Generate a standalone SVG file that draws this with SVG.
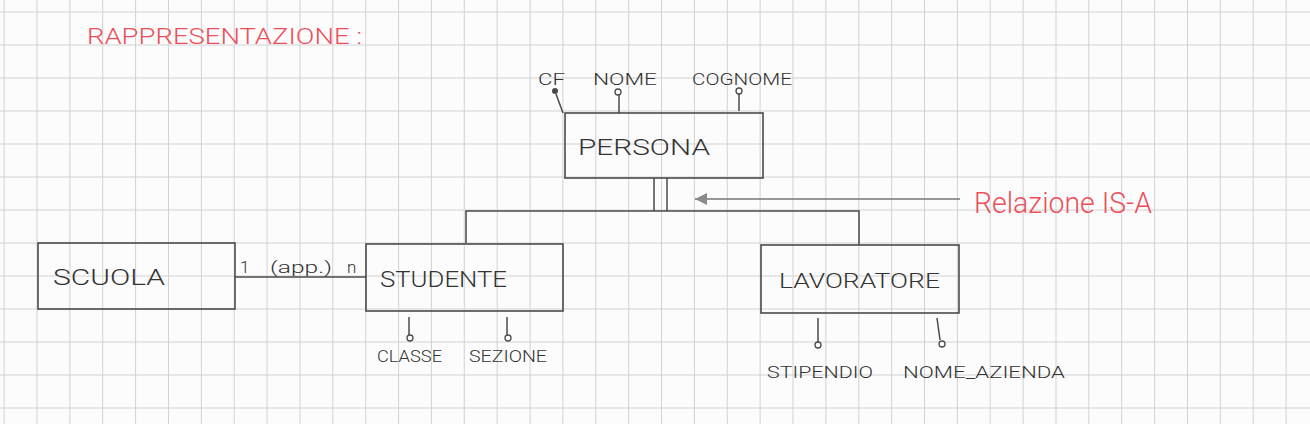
<svg xmlns="http://www.w3.org/2000/svg" width="1310" height="424" viewBox="0 0 1310 424">
<style>
.grid{stroke:#d2d2d2;stroke-width:1;fill:none}
.box{fill:none;stroke:#4a4a4a;stroke-width:1.6}
.ln{fill:none;stroke:#4a4a4a;stroke-width:1.5}
.lbl{font-family:Roboto,"Liberation Sans",Arial,sans-serif;font-weight:300;fill:#333}
.ent{font-size:22px}
.att{font-size:16px}
.red{font-family:Roboto,"Liberation Sans",Arial,sans-serif;font-weight:300;fill:#ec4f5a}
.lol{fill:#fff;stroke:#4a4a4a;stroke-width:1.3}
</style>
<defs>
<marker id="tri" markerUnits="userSpaceOnUse" markerWidth="13" markerHeight="13" refX="12" refY="6.5" orient="auto">
<path d="M0,0.5 L12,6.5 L0,12.5 z" fill="#8a8a8a"/>
</marker>
</defs>
<rect width="1310" height="424" fill="#fcfcfc"/>
<path class="grid" d="M4.1 0V424M37 0V424M69.9 0V424M102.7 0V424M135.6 0V424M168.5 0V424M201.4 0V424M234.2 0V424M267.1 0V424M300 0V424M332.8 0V424M365.7 0V424M398.6 0V424M431.4 0V424M464.3 0V424M497.2 0V424M530.1 0V424M562.9 0V424M595.8 0V424M628.7 0V424M661.5 0V424M694.4 0V424M727.3 0V424M760.1 0V424M793 0V424M825.9 0V424M858.8 0V424M891.6 0V424M924.5 0V424M957.4 0V424M990.2 0V424M1023.1 0V424M1056 0V424M1088.8 0V424M1121.7 0V424M1154.6 0V424M1187.5 0V424M1220.3 0V424M1253.2 0V424M1286.1 0V424M0 12H1310M0 45H1310M0 78H1310M0 111H1310M0 144H1310M0 177H1310M0 210H1310M0 243H1310M0 276H1310M0 309H1310M0 342H1310M0 375H1310M0 408H1310"/>

<text class="red" x="87" y="44" font-size="22" textLength="275" lengthAdjust="spacingAndGlyphs">RAPPRESENTAZIONE :</text>

<g id="connectors">
<line class="ln" x1="235" y1="277" x2="366" y2="277"/>
<text class="lbl" x="240" y="273" font-size="17">1</text>
<text class="lbl" x="270" y="273" font-size="17" textLength="62" lengthAdjust="spacingAndGlyphs">(app.)</text>
<text class="lbl" x="347" y="273" font-size="17">n</text>
<line class="ln" x1="654" y1="178" x2="654" y2="211"/>
<line class="ln" x1="667" y1="178" x2="667" y2="211"/>
<polyline class="ln" points="466,243 466,211 859,211 859,245"/>
<line x1="960" y1="199" x2="695" y2="199" stroke="#777" stroke-width="1.3" marker-end="url(#tri)"/>
<text class="red" x="974" y="213" font-size="29" textLength="178" lengthAdjust="spacingAndGlyphs">Relazione IS-A</text>
</g>

<g id="persona">
<rect class="box" x="565" y="113" width="198" height="65"/>
<text class="lbl ent" x="578" y="155" textLength="132" lengthAdjust="spacingAndGlyphs">PERSONA</text>
<line class="ln" x1="556" y1="94" x2="563" y2="113"/>
<circle cx="555" cy="91" r="3" fill="#4a4a4a"/>
<text class="lbl att" x="538" y="85" textLength="27" lengthAdjust="spacingAndGlyphs">CF</text>
<line class="ln" x1="619" y1="95" x2="619" y2="113"/>
<circle class="lol" cx="618" cy="92" r="3"/>
<text class="lbl att" x="593" y="85" textLength="64" lengthAdjust="spacingAndGlyphs">NOME</text>
<line class="ln" x1="739" y1="94" x2="739" y2="111"/>
<circle class="lol" cx="739" cy="91" r="3"/>
<text class="lbl att" x="692" y="85" textLength="100" lengthAdjust="spacingAndGlyphs">COGNOME</text>
</g>

<g id="scuola">
<rect class="box" x="38" y="243" width="197" height="66"/>
<text class="lbl ent" x="53" y="285" textLength="112" lengthAdjust="spacingAndGlyphs">SCUOLA</text>
</g>

<g id="studente">
<rect class="box" x="366" y="244" width="197" height="67"/>
<text class="lbl ent" x="380" y="287" textLength="127" lengthAdjust="spacingAndGlyphs">STUDENTE</text>
<line class="ln" x1="409" y1="317" x2="409" y2="335"/>
<circle class="lol" cx="410" cy="338" r="3"/>
<text class="lbl att" x="377" y="362" textLength="65" lengthAdjust="spacingAndGlyphs">CLASSE</text>
<line class="ln" x1="507" y1="317" x2="507" y2="335"/>
<circle class="lol" cx="508" cy="338" r="3"/>
<text class="lbl att" x="469" y="362" textLength="78" lengthAdjust="spacingAndGlyphs">SEZIONE</text>
</g>

<g id="lavoratore">
<rect class="box" x="761" y="245" width="198" height="68"/>
<text class="lbl" x="779" y="288" font-size="20" textLength="161" lengthAdjust="spacingAndGlyphs">LAVORATORE</text>
<line class="ln" x1="818" y1="318" x2="818" y2="342"/>
<circle class="lol" cx="818" cy="345" r="3"/>
<text class="lbl att" x="767" y="378" textLength="106" lengthAdjust="spacingAndGlyphs">STIPENDIO</text>
<line class="ln" x1="937" y1="318" x2="940" y2="340"/>
<circle class="lol" cx="942" cy="344" r="3"/>
<text class="lbl att" x="903" y="378" textLength="162" lengthAdjust="spacingAndGlyphs">NOME_AZIENDA</text>
</g>
</svg>
